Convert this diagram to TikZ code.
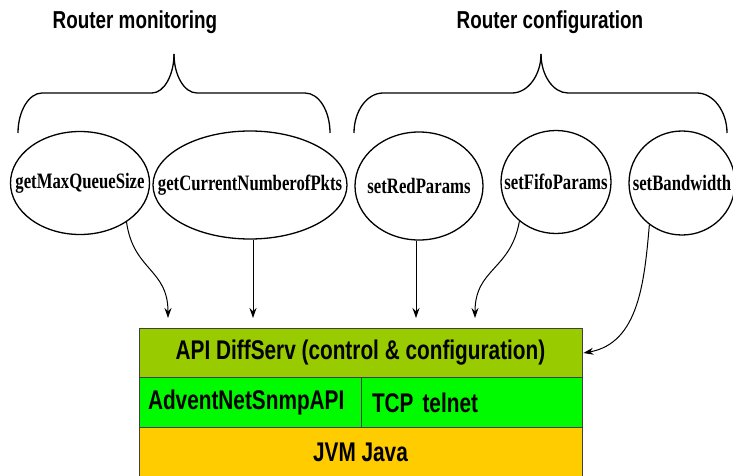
\documentclass[tikz,border=0pt]{standalone}
\usepackage{fontspec}
\usetikzlibrary{shapes.geometric,arrows.meta}
\newfontfamily\labelfont[FakeStretch=0.77]{Liberation Sans}
\newfontfamily\methodfont[FakeStretch=0.76]{Liberation Serif}
\definecolor{apigreen}{RGB}{153,204,0}
\definecolor{snmpgreen}{RGB}{0,250,0}
\definecolor{jvmyellow}{RGB}{255,204,0}
\def\squeeze#1{\makebox[0pt]{#1}}

\begin{document}
\begin{tikzpicture}[x=1pt,y=1pt,
	method/.style={ellipse, draw, line width=1.3pt, inner sep=0pt, font=\methodfont\bfseries\fontsize{22}{24}\selectfont},
	layer/.style={rectangle, draw=black!75, line width=0.9pt, inner sep=0pt, minimum height=49.5pt, font=\labelfont\bfseries\fontsize{27}{29}\selectfont},
	call/.style={line width=1pt, -{Stealth[length=10pt,width=7pt]}},
	bracket/.style={line width=1.3pt}]
			%%%%% START %%%%%
			
			\fill[white] (0,0) rectangle (733,-476);
			\useasboundingbox (0,0) rectangle (733,-476);
			
			\node[font=\labelfont\bfseries\fontsize{24.5}{26}\selectfont] (monlabel) at (135,-22) {Router monitoring};
			\node[font=\labelfont\bfseries\fontsize{24.5}{26}\selectfont] (conflabel) at (550,-22) {Router configuration};
			
			\draw[bracket] (18,-133) .. controls (18,-111) and (29,-93) .. (42,-93) -- (152,-93) .. controls (164,-93) and (174,-75) .. (174,-54);
			\draw[bracket] (174,-54) .. controls (174,-75) and (184,-93) .. (197,-93) -- (305,-93) .. controls (319,-93) and (330,-111) .. (330,-133);
			
			\draw[bracket] (354,-133) .. controls (354,-111) and (367,-93) .. (383,-93) -- (512,-93) .. controls (528,-93) and (541,-75) .. (541,-54);
			\draw[bracket] (541,-54) .. controls (541,-75) and (553,-93) .. (568,-93) -- (697,-93) .. controls (713,-93) and (727,-111) .. (727,-133);
			
			\node[method, minimum width=139pt, minimum height=103pt] (getmax) at (80,-183) {\squeeze{getMaxQueueSize}};
			\node[method, minimum width=194pt, minimum height=108pt] (getcur) at (250,-185) {\squeeze{getCurrentNumberofPkts}};
			\node[method, minimum width=128pt, minimum height=108pt] (setred) at (419,-186) {\squeeze{setRedParams}};
			\node[method, minimum width=110pt, minimum height=103pt] (setfifo) at (556,-182) {\squeeze{setFifoParams}};
			\node[method, minimum width=106pt, minimum height=104pt] (setbw) at (682,-183) {\squeeze{setBandwidth}};
			
			\node[layer, fill=apigreen, minimum width=443pt] (diffserv) at (360.5,-353) {API DiffServ (control \& configuration)};
			\node[layer, fill=snmpgreen, minimum width=222pt, text width=204pt, align=left] (snmp) at (250,-402.5) {AdventNetSnmpAPI};
			\node[layer, fill=snmpgreen, minimum width=221pt, text width=199pt, align=left] (telnet) at (471.5,-402.5) {TCP telnet};
			\node[layer, fill=jvmyellow, minimum width=443pt, minimum height=50pt] (jvm) at (360.5,-452) {JVM Java};
			
			\coordinate (in1) at (168,-318);
			\coordinate (in2) at (253,-318);
			\coordinate (in3) at (416,-318);
			\coordinate (in4) at (475,-318);
			
			\draw[call] (getmax.-40) to[out=-82, in=90, looseness=1.2] (in1);
			\draw[call] (in2 |- getcur.south) -- (in2);
			\draw[call] (in3 |- setred.south) -- (in3);
			\draw[call] (setfifo.-133) to[out=-100, in=90, looseness=1.2] (in4);
			\draw[call] (setbw.-128) to[out=-95, in=10] ([xshift=1pt]diffserv.east);
			
			%%%%% END %%%%%
		\end{tikzpicture}
\end{document}
